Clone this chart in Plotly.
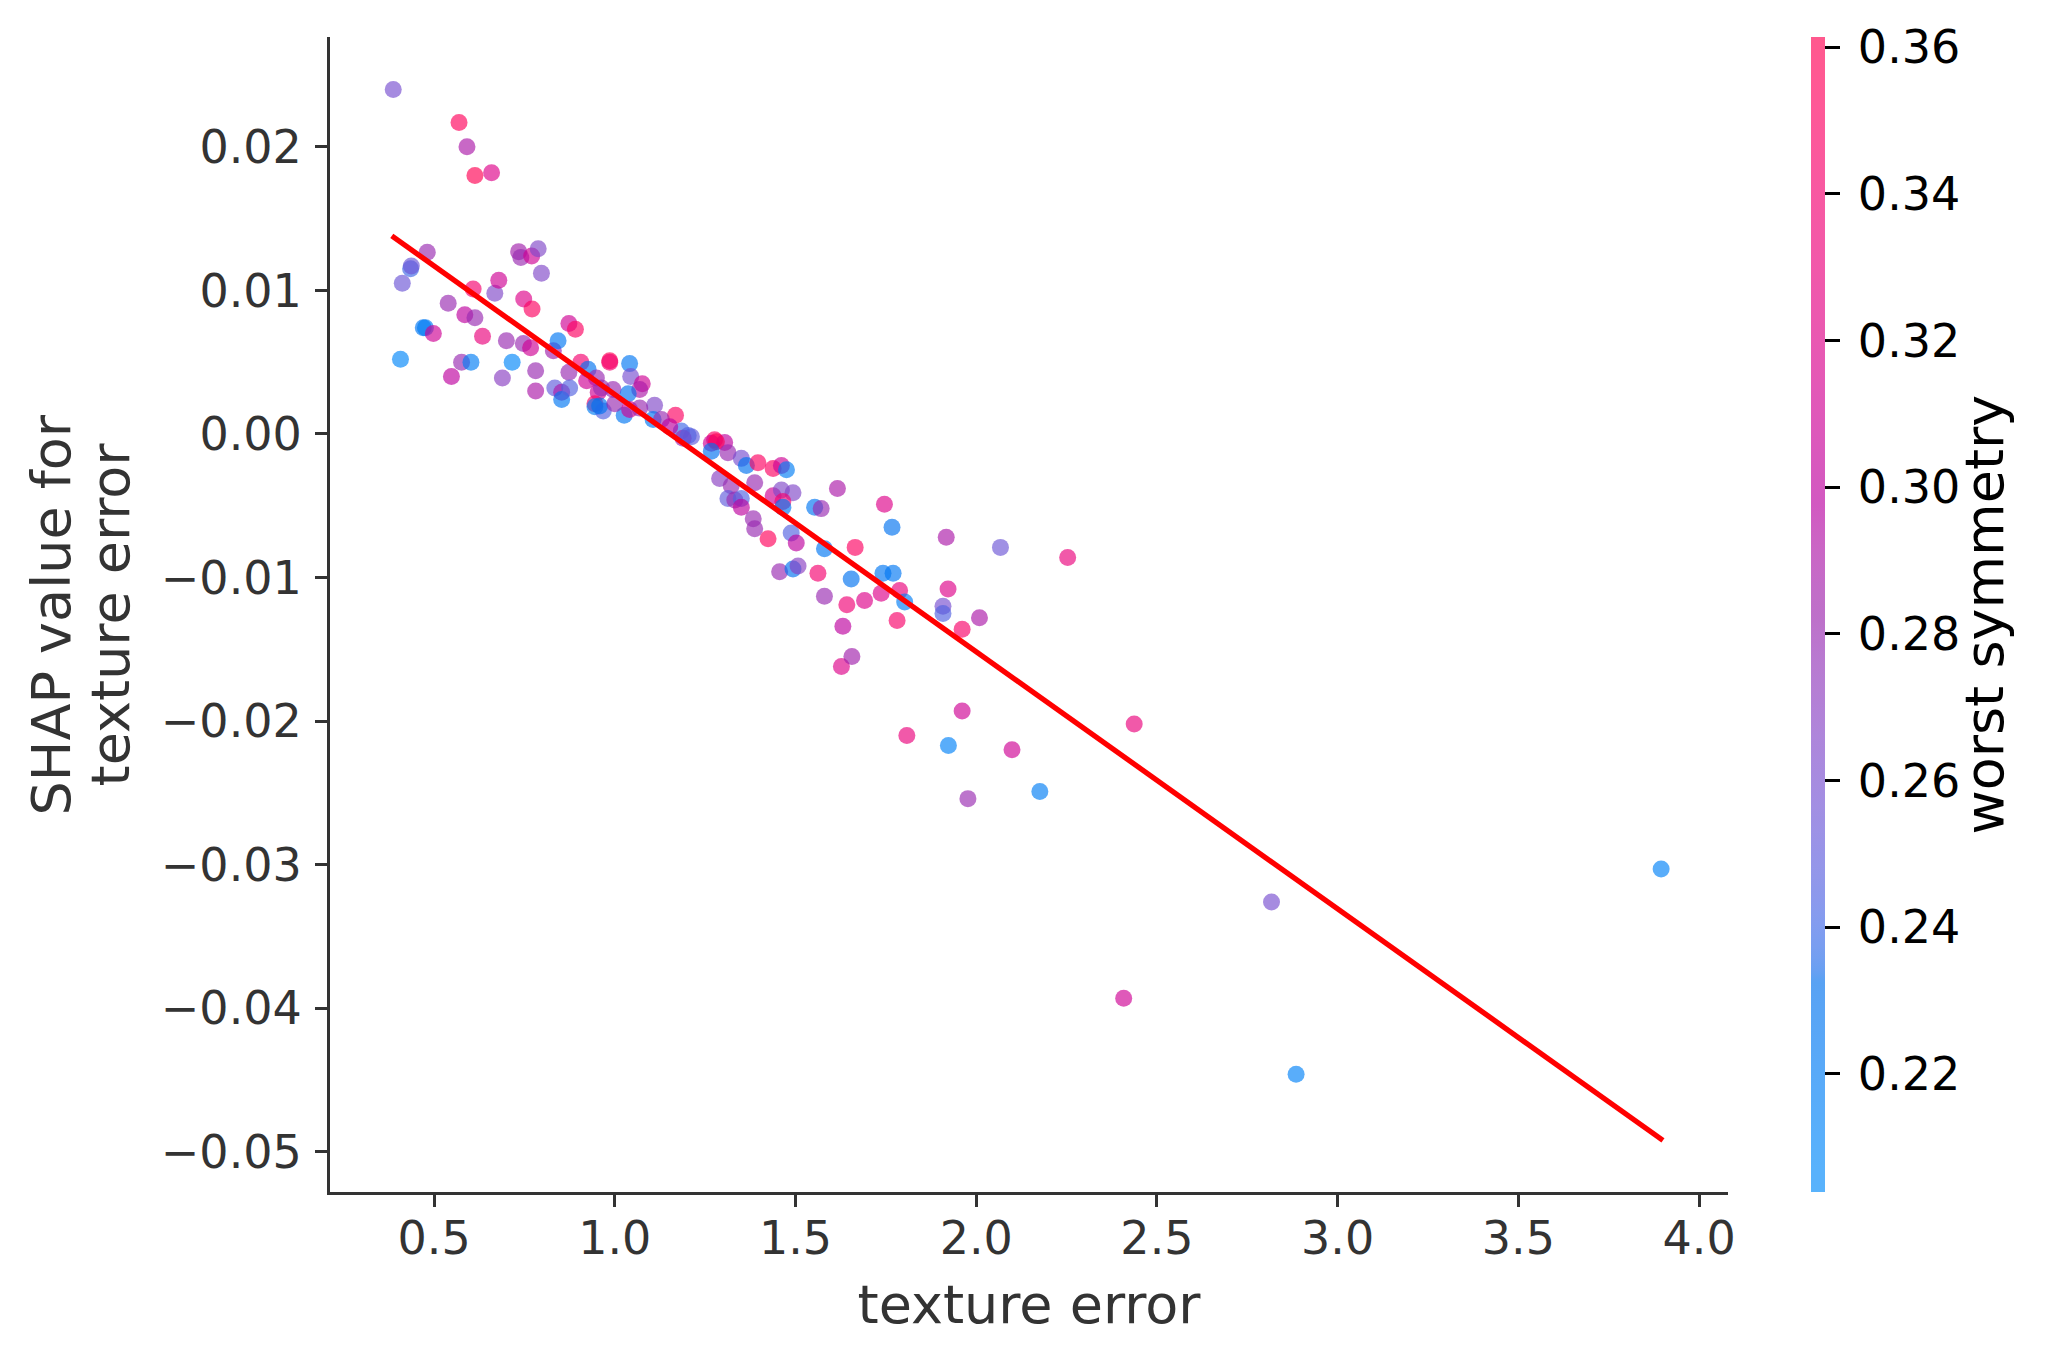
import numpy as np
import plotly.graph_objects as go

# texture error (x), SHAP value (y), worst symmetry (colour)
texture_error = [
    0.387, 0.569, 0.591, 0.613, 0.659, 0.481, 0.435, 0.437, 0.412, 0.407,
    0.470, 0.476, 0.498, 0.539, 0.548, 0.576, 0.602, 0.585, 0.613, 0.608,
    0.634, 0.668, 0.679, 0.689, 0.700, 0.716, 0.734, 0.740, 0.770, 0.788,
    0.797, 0.748, 0.771, 0.747, 0.767, 0.781, 0.781, 0.830, 0.843, 0.873,
    0.891, 0.834, 0.853, 0.853, 0.873, 0.875, 0.906, 0.926, 0.949, 0.922,
    0.986, 0.986, 1.041, 1.044, 1.076, 1.069, 1.110, 1.168, 0.954, 0.945,
    0.945, 0.968, 1.026, 1.184, 1.212, 1.276, 1.304, 0.963, 0.958, 0.995,
    1.000, 1.037, 1.041, 1.069, 1.106, 1.129, 1.152, 1.189, 1.203, 1.267,
    1.281, 1.267, 1.313, 1.350, 1.364, 1.396, 1.438, 1.461, 1.475, 1.290,
    1.322, 1.313, 1.332, 1.350, 1.350, 1.387, 1.383, 1.387, 1.424, 1.438,
    1.461, 1.493, 1.465, 1.465, 1.553, 1.571, 1.616, 1.746, 1.767, 1.488,
    1.502, 1.456, 1.493, 1.507, 1.562, 1.580, 1.665, 1.580, 1.654, 1.642,
    1.691, 1.737, 1.742, 1.770, 1.788, 1.802, 1.781, 1.631, 1.917, 1.922,
    1.908, 1.908, 2.009, 1.961, 1.961, 1.808, 1.923, 2.099, 1.977, 2.176,
    2.067, 2.253, 1.627, 1.656, 2.437, 2.408, 2.817, 2.885, 3.895,
]
shap_value = [
    0.0240, 0.0217, 0.0200, 0.0180, 0.0182, 0.01265, 0.0115, 0.0117, 0.0105, 0.0052,
    0.0074, 0.0074, 0.0070, 0.0091, 0.0040, 0.0050, 0.0050, 0.0083, 0.0081, 0.0101,
    0.0068, 0.0098, 0.0107, 0.0039, 0.0065, 0.0050, 0.0127, 0.0123, 0.0124, 0.0129,
    0.0112, 0.0094, 0.0087, 0.0063, 0.0060, 0.0044, 0.0030, 0.0058, 0.0065, 0.0077,
    0.0073, 0.0032, 0.0029, 0.0024, 0.0043, 0.0032, 0.0050, 0.0045, 0.0039, 0.0037,
    0.0051, 0.0050, 0.0049, 0.0040, 0.0035, 0.0031, 0.0020, 0.0013, 0.0029, 0.0021,
    0.0019, 0.0016, 0.0013, 0.0002, -0.0002, -0.0004, -0.0006, 0.0032, 0.00195, 0.0031,
    0.0021, 0.0028, 0.0017, 0.0018, 0.0010, 0.0010, 0.0005, -0.0003, -0.0001, -0.00065,
    -0.00054, -0.0012, -0.0013, -0.0017, -0.0022, -0.0020, -0.0024, -0.0022, -0.0025, -0.0031,
    -0.0036, -0.0045, -0.0046, -0.0045, -0.0051, -0.0034, -0.0059, -0.0066, -0.0073, -0.0043,
    -0.0039, -0.0041, -0.0047, -0.0051, -0.0051, -0.0052, -0.0038, -0.0049, -0.0065, -0.0069,
    -0.0076, -0.0096, -0.0094, -0.0092, -0.0097, -0.0080, -0.0079, -0.0113, -0.0101, -0.0119,
    -0.0116, -0.0111, -0.0097, -0.0097, -0.0109, -0.0117, -0.0130, -0.0134, -0.0072, -0.0108,
    -0.0120, -0.0125, -0.0128, -0.0136, -0.0193, -0.0210, -0.0217, -0.0220, -0.0254, -0.0249,
    -0.0079, -0.0086, -0.0162, -0.0155, -0.0202, -0.0393, -0.0326, -0.0446, -0.0303,
]
worst_symmetry = [
    0.26, 0.355, 0.29, 0.36, 0.32, 0.28, 0.24, 0.255, 0.255, 0.21,
    0.225, 0.22, 0.31, 0.28, 0.30, 0.28, 0.22, 0.30, 0.28, 0.34,
    0.33, 0.265, 0.31, 0.27, 0.28, 0.21, 0.285, 0.28, 0.31, 0.265,
    0.265, 0.32, 0.35, 0.28, 0.31, 0.28, 0.29, 0.285, 0.225, 0.31,
    0.35, 0.25, 0.29, 0.225, 0.28, 0.245, 0.34, 0.23, 0.28, 0.31,
    0.36, 0.34, 0.225, 0.26, 0.31, 0.29, 0.265, 0.35, 0.31, 0.35,
    0.22, 0.245, 0.225, 0.24, 0.25, 0.35, 0.30, 0.28, 0.23, 0.28,
    0.28, 0.23, 0.31, 0.28, 0.225, 0.28, 0.30, 0.28, 0.245, 0.31,
    0.36, 0.23, 0.28, 0.26, 0.23, 0.35, 0.35, 0.31, 0.22, 0.27,
    0.28, 0.25, 0.28, 0.245, 0.30, 0.28, 0.28, 0.28, 0.355, 0.31,
    0.265, 0.265, 0.34, 0.225, 0.225, 0.28, 0.29, 0.32, 0.23, 0.245,
    0.30, 0.28, 0.23, 0.27, 0.34, 0.225, 0.35, 0.28, 0.23, 0.335,
    0.32, 0.32, 0.225, 0.225, 0.33, 0.22, 0.345, 0.30, 0.29, 0.32,
    0.26, 0.245, 0.29, 0.345, 0.31, 0.33, 0.215, 0.31, 0.28, 0.22,
    0.255, 0.33, 0.32, 0.285, 0.33, 0.31, 0.26, 0.215, 0.215,
]

# fitted trend line end points
fit_x = [0.383, 3.900]
fit_y = [0.0138, -0.0492]

c_min, c_max = 0.2039, 0.3614
cbar_ticks = [0.22, 0.24, 0.26, 0.28, 0.30, 0.32, 0.34, 0.36]
x_ticks = [0.5, 1.0, 1.5, 2.0, 2.5, 3.0, 3.5, 4.0]
y_ticks = [-0.05, -0.04, -0.03, -0.02, -0.01, 0.0, 0.01, 0.02]

ALPHA = 0.65


def lch2rgb(l, c, h):
    a, b = c * np.cos(h), c * np.sin(h)
    fy = (l + 16) / 116
    fx, fz = fy + a / 500, fy - b / 200

    def finv(t):
        return t ** 3 if t ** 3 > 0.008856 else (t - 16 / 116) / 7.787

    X, Y, Z = 0.95047 * finv(fx), finv(fy), 1.08883 * finv(fz)
    lin = [3.2406 * X - 1.5372 * Y - 0.4986 * Z,
           -0.9689 * X + 1.8758 * Y + 0.0415 * Z,
           0.0557 * X - 0.2040 * Y + 1.0570 * Z]
    out = []
    for v in lin:
        v = 1.055 * v ** (1 / 2.4) - 0.055 if v > 0.0031308 else 12.92 * v
        out.append(min(max(v, 0.0), 1.0))
    return out


# shap-like red/blue scale built in LCh space
n = 100
l_vals = list(np.linspace(54, 40, n // 2)) + list(np.linspace(40, 54, n // 2))
c_vals = np.linspace(70, 90, n)
h_vals = np.linspace(4.6588, 0.35470565 + 2 * np.pi, n)
full_scale, faded_scale = [], []
for pos, l, c, h in zip(np.linspace(0, 1, n), l_vals, c_vals, h_vals):
    r, g, b = lch2rgb(l, c, h)
    full_scale.append([pos, f"rgb({r*255:.0f},{g*255:.0f},{b*255:.0f})"])
    fr, fg, fb = [ALPHA * v + (1 - ALPHA) for v in (r, g, b)]
    faded_scale.append([pos, f"rgb({fr*255:.0f},{fg*255:.0f},{fb*255:.0f})"])

font = "DejaVu Sans"
fig = go.Figure()

fig.add_trace(go.Scatter(
    x=texture_error, y=shap_value, mode="markers",
    marker=dict(size=17, color=worst_symmetry, colorscale=full_scale,
                cmin=c_min, cmax=c_max, opacity=ALPHA, line=dict(width=0),
                showscale=False),
    showlegend=False,
))

fig.add_trace(go.Scatter(
    x=fit_x, y=fit_y, mode="lines",
    line=dict(color="#ff0000", width=5.3), showlegend=False,
))

# colour bar only (faded like the dots)
fig.add_trace(go.Scatter(
    x=[None, None], y=[None, None], mode="markers",
    marker=dict(color=[c_min, c_max], colorscale=faded_scale, cmin=c_min, cmax=c_max,
                showscale=True,
                colorbar=dict(
                    x=1.0594, xanchor="left", y=0.5, yanchor="middle",
                    len=1.0, lenmode="fraction", thickness=14,
                    xpad=0, ypad=0, outlinewidth=0,
                    ticks="outside", ticklen=15, tickwidth=3, tickcolor="black",
                    tickvals=cbar_ticks,
                    ticktext=[f"&#8201;{v:.2f}" for v in cbar_ticks],
                    tickfont=dict(family=font, size=46, color="black"),
                )),
    showlegend=False, hoverinfo="skip",
))

axis_common = dict(
    showgrid=False, zeroline=False, showline=True, linecolor="#333333", linewidth=3,
    ticks="outside", ticklen=12, tickwidth=3, tickcolor="#333333",
    tickfont=dict(family=font, size=46, color="#333333"),
    mirror=False,
)

title_font = dict(family=font, size=54, color="#333333")
fig.update_layout(
    width=2055, height=1365,
    margin=dict(l=322, r=335, t=29, b=181),
    paper_bgcolor="white", plot_bgcolor="white",
    xaxis=dict(range=[0.212, 4.08], tickvals=x_ticks, tickformat=".1f",
               ticklabelstandoff=-8,
               title=dict(text="texture error", standoff=21, font=title_font),
               **axis_common),
    yaxis=dict(range=[-0.0528, 0.02765], tickvals=y_ticks, tickformat=".2f",
               ticklabelstandoff=4,
               **axis_common),
    annotations=[
        dict(text="SHAP value for", x=-0.1989, y=0.5, xref="paper", yref="paper",
             xanchor="center", yanchor="middle", textangle=-90, showarrow=False,
             font=title_font),
        dict(text="texture error", x=-0.1567, y=0.5, xref="paper", yref="paper",
             xanchor="center", yanchor="middle", textangle=-90, showarrow=False,
             font=title_font),
        dict(text="worst symmetry", x=1.1838, y=0.5, xref="paper", yref="paper",
             xanchor="center", yanchor="middle", textangle=-90, showarrow=False,
             font=dict(family=font, size=54, color="black")),
    ],
)

fig.write_html("out.html")
